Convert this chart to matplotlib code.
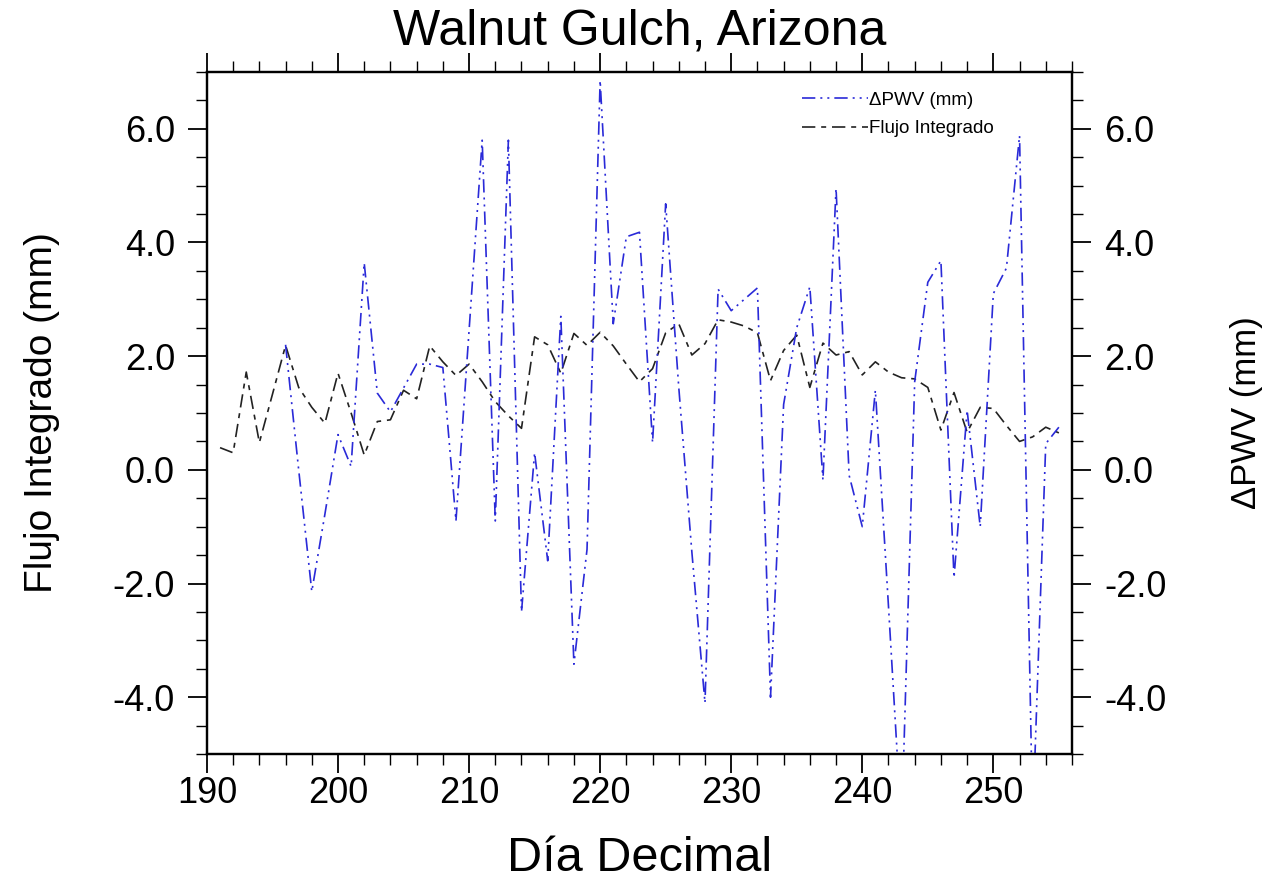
import matplotlib
matplotlib.use('Agg')
import matplotlib.pyplot as plt
from matplotlib.ticker import MultipleLocator, FormatStrFormatter

plt.rcParams['font.family'] = ['Liberation Sans', 'DejaVu Sans']
plt.rcParams['axes.unicode_minus'] = False

dias_flujo = list(range(191, 256))
flujo = [0.39, 0.30, 1.72, 0.48, 1.33, 2.19, 1.45, 1.10, 0.82, 1.70,
         1.00, 0.26, 0.85, 0.88, 1.40, 1.25, 2.18, 1.90, 1.66, 1.86,
         1.55, 1.20, 0.95, 0.73, 2.34, 2.20, 1.70, 2.40, 2.19, 2.42,
         2.18, 1.86, 1.55, 1.78, 2.41, 2.57, 2.02, 2.22, 2.64, 2.60,
         2.53, 2.41, 1.57, 2.10, 2.37, 1.45, 2.23, 2.02, 2.08, 1.67,
         1.90, 1.72, 1.62, 1.60, 1.45, 0.70, 1.36, 0.66, 1.10, 1.08,
         0.78, 0.50, 0.58, 0.75, 0.65]

dias_pwv = list(range(196, 256))
dpwv = [2.20, 0.00, -2.14, -0.78, 0.62, 0.06, 3.64, 1.35, 1.02, 1.44,
        1.86, 1.86, 1.80, -0.90, 2.45, 5.80, -0.90, 5.80, -2.50, 0.30,
        -1.60, 2.70, -3.42, -1.40, 6.85, 2.57, 4.10, 4.18, 0.48, 4.68,
        1.45, -1.45, -4.10, 3.18, 2.80, 3.00, 3.20, -4.00, 1.15, 2.50,
        3.22, -0.18, 4.95, -0.10, -1.00, 1.40, -2.40, -6.30, 1.55, 3.30,
        3.68, -1.90, 1.05, -1.00, 3.10, 3.55, 5.88, -6.20, 0.46, 0.75]

fig = plt.figure(figsize=(12.68, 8.82), dpi=100)
ax = fig.add_axes([0.1632, 0.1451, 0.6822, 0.7733])
ax2 = ax.twinx()

l1, = ax2.plot(dias_pwv, dpwv, color='#2a2ad8', linewidth=1.2,
               linestyle=(0, (8, 3, 1.2, 3, 1.2, 3)), label='ΔPWV (mm)')
l2, = ax.plot(dias_flujo, flujo, color='#222222', linewidth=1.2,
              linestyle=(0, (8, 3.5, 3, 3.5)), label='Flujo Integrado')

for a in (ax, ax2):
    a.set_xlim(190, 256)
    a.set_ylim(-5, 7)
    a.yaxis.set_major_locator(MultipleLocator(2))
    a.yaxis.set_minor_locator(MultipleLocator(0.5))
    a.yaxis.set_major_formatter(FormatStrFormatter('%.1f'))
    for s in a.spines.values():
        s.set_linewidth(1.6)

ax.xaxis.set_major_locator(MultipleLocator(10))
ax.xaxis.set_minor_locator(MultipleLocator(2))

ax.tick_params(which='major', direction='out', length=14, width=1.3,
               labelsize=26, top=True, pad=2)
ax.tick_params(which='minor', direction='out', length=8, width=1.0, top=True)
ax.tick_params(axis='y', pad=9)
ax2.tick_params(which='major', direction='out', length=14, width=1.3,
                labelsize=26, pad=9)
ax2.tick_params(which='minor', direction='out', length=8, width=1.0)

ax.set_title('Walnut Gulch, Arizona', fontsize=36, pad=20)
ax.set_xlabel('Día Decimal', fontsize=35, labelpad=18)
ax.set_ylabel('Flujo Integrado (mm)', fontsize=28, labelpad=38)
ax2.set_ylabel('ΔPWV (mm)', fontsize=25, labelpad=46)

ax2.legend(handles=[l1, l2], loc='upper left', bbox_to_anchor=(0.677, 0.985),
           frameon=False, fontsize=13.5, handlelength=3.5, handletextpad=0.05,
           borderpad=0, labelspacing=0.6)

fig.savefig('out.png', dpi=100, facecolor='white')
